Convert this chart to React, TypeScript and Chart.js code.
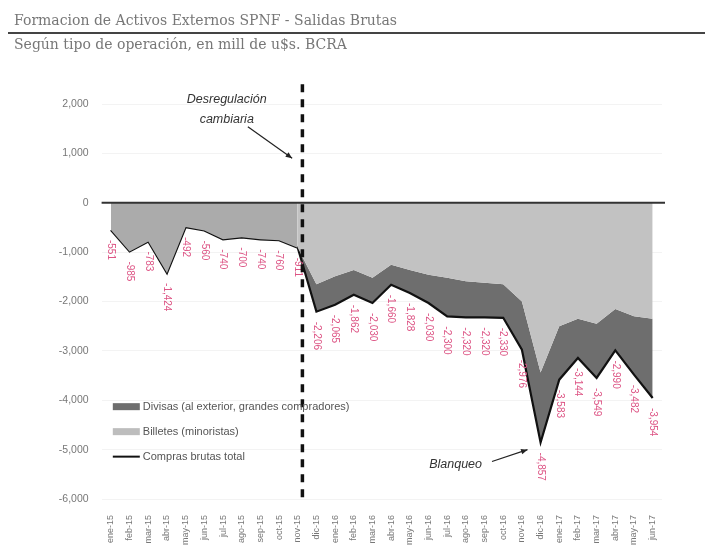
import React, { useEffect, useRef } from 'react';
import { Chart, registerables } from 'chart.js';
Chart.register(...registerables);

const categories = [
  'ene-15', 'feb-15', 'mar-15', 'abr-15', 'may-15', 'jun-15', 'jul-15', 'ago-15', 'sep-15', 'oct-15', 'nov-15', 'dic-15',
  'ene-16', 'feb-16', 'mar-16', 'abr-16', 'may-16', 'jun-16', 'jul-16', 'ago-16', 'sep-16', 'oct-16', 'nov-16', 'dic-16',
  'ene-17', 'feb-17', 'mar-17', 'abr-17', 'may-17', 'jun-17',
];

const totalValues = [
  -551, -985, -783, -1424, -492, -560, -740, -700, -740, -760, -911, -2206,
  -2065, -1862, -2030, -1660, -1828, -2030, -2300, -2320, -2320, -2330, -2976, -4857,
  -3583, -3144, -3549, -2990, -3482, -3954,
];

const billetesValues = [
  -551, -985, -783, -1424, -492, -560, -740, -700, -740, -760, -911, -1650,
  -1490, -1360, -1520, -1255, -1360, -1460, -1520, -1590, -1620, -1650, -2000, -3440,
  -2500, -2350, -2450, -2150, -2300, -2350,
];

const legendLabels = [
  'Divisas (al exterior, grandes compradores)',
  'Billetes (minoristas)',
  'Compras brutas total',
];

const yMin = -6000;
const yMax = 2000;
const yStep = 1000;
const dereguIndex = 10.25;

const fmt = (v: number) => v.toLocaleString('en-US');

const annotationPlugin = {
  id: 'annot',
  afterDatasetsDraw(chart: any) {
    const { ctx, chartArea, scales } = chart;
    const x = scales.x;
    const y = scales.y;
    ctx.save();
    // zero line
    const y0 = y.getPixelForValue(0);
    ctx.strokeStyle = '#333';
    ctx.lineWidth = 2;
    ctx.beginPath();
    ctx.moveTo(chartArea.left, y0);
    ctx.lineTo(chartArea.right + 3, y0);
    ctx.stroke();

    // data labels
    const meta = chart.getDatasetMeta(1);
    ctx.fillStyle = '#dd5585';
    ctx.font = '10px "Liberation Sans"';
    ctx.textAlign = 'left';
    ctx.textBaseline = 'middle';
    meta.data.forEach((pt: any, i: number) => {
      ctx.save();
      ctx.translate(pt.x, pt.y + 10);
      ctx.rotate(Math.PI / 2);
      ctx.fillText(fmt(totalValues[i]), 0, 0);
      ctx.restore();
    });

    // dashed vertical line
    const dx = x.getPixelForValue(dereguIndex);
    ctx.strokeStyle = '#111';
    ctx.lineWidth = 3.5;
    ctx.setLineDash([8, 7]);
    ctx.beginPath();
    ctx.moveTo(dx, y.getPixelForValue(2400));
    ctx.lineTo(dx, chartArea.bottom);
    ctx.stroke();
    ctx.setLineDash([]);

    const arrow = (x1: number, y1: number, x2: number, y2: number) => {
      ctx.strokeStyle = '#222';
      ctx.fillStyle = '#222';
      ctx.lineWidth = 1.2;
      ctx.beginPath();
      ctx.moveTo(x1, y1);
      ctx.lineTo(x2, y2);
      ctx.stroke();
      const a = Math.atan2(y2 - y1, x2 - x1);
      const L = 7;
      ctx.beginPath();
      ctx.moveTo(x2, y2);
      ctx.lineTo(x2 - L * Math.cos(a - 0.4), y2 - L * Math.sin(a - 0.4));
      ctx.lineTo(x2 - L * Math.cos(a + 0.4), y2 - L * Math.sin(a + 0.4));
      ctx.closePath();
      ctx.fill();
    };

    // Desregulacion
    ctx.fillStyle = '#333';
    ctx.font = 'italic 12.5px "Liberation Sans"';
    ctx.textAlign = 'center';
    ctx.textBaseline = 'middle';
    ctx.fillText('Desregulación', x.getPixelForValue(6.2), y.getPixelForValue(2085));
    ctx.fillText('cambiaria', x.getPixelForValue(6.2), y.getPixelForValue(1680));
    arrow(x.getPixelForValue(7.33), y.getPixelForValue(1540), x.getPixelForValue(9.7), y.getPixelForValue(900));

    // Blanqueo
    ctx.fillStyle = '#333';
    ctx.font = 'italic 12.5px "Liberation Sans"';
    ctx.fillText('Blanqueo', x.getPixelForValue(18.45), y.getPixelForValue(-5300));
    arrow(x.getPixelForValue(20.4), y.getPixelForValue(-5240), x.getPixelForValue(22.3), y.getPixelForValue(-5000));

    // legend
    const lx = x.getPixelForValue(0.1);
    const rows = [-4130, -4636, -5142];
    ctx.font = '11px "Liberation Sans"';
    ctx.textAlign = 'left';
    rows.forEach((rv, i) => {
      const ry = y.getPixelForValue(rv);
      if (i === 0) {
        ctx.fillStyle = '#6e6e6e';
        ctx.fillRect(lx, ry - 3.5, 27, 7);
      } else if (i === 1) {
        ctx.fillStyle = '#bdbdbd';
        ctx.fillRect(lx, ry - 3.5, 27, 7);
      } else {
        ctx.strokeStyle = '#111';
        ctx.lineWidth = 2;
        ctx.beginPath();
        ctx.moveTo(lx, ry);
        ctx.lineTo(lx + 27, ry);
        ctx.stroke();
      }
      ctx.fillStyle = '#555';
      ctx.fillText(legendLabels[i], lx + 30, ry);
    });
    ctx.restore();
  },
};

export default function App() {
  const ref = useRef<HTMLCanvasElement>(null);
  useEffect(() => {
    if (!ref.current) return;
    const chart = new Chart(ref.current, {
      type: 'line',
      data: {
        labels: categories,
        datasets: [
          {
            label: legendLabels[1],
            data: billetesValues,
            fill: 'origin',
            backgroundColor: '#c2c2c2',
            borderWidth: 0,
            pointRadius: 0,
            segment: {
              backgroundColor: (c: any) => (c.p1DataIndex <= 10 ? '#ababab' : '#c2c2c2'),
            },
          } as any,
          {
            label: legendLabels[2],
            data: totalValues,
            fill: '-1',
            backgroundColor: '#6e6e6e',
            borderColor: '#111',
            borderWidth: 2.2,
            pointRadius: 0,
            tension: 0,
          },
        ],
      },
      options: {
        responsive: false,
        animation: false,
        layout: { padding: { left: 0, right: 47, top: 104, bottom: 0 } },
        plugins: { legend: { display: false }, tooltip: { enabled: false } },
        scales: {
          x: {
            offset: true,
            border: { display: false },
            grid: { display: false },
            ticks: {
              autoSkip: false,
              maxRotation: 90,
              minRotation: 90,
              padding: 8,
              color: '#777',
              font: { family: 'Liberation Sans', size: 9 },
            },
            afterFit: (s: any) => { s.height = 49; },
          },
          y: {
            min: yMin,
            max: yMax,
            border: { display: false },
            grid: { color: '#f3f3f3', drawTicks: false },
            ticks: {
              stepSize: yStep,
              padding: 13,
              color: '#777',
              font: { family: 'Liberation Sans', size: 10.5 },
              callback: (v: any) => fmt(Number(v)),
            },
            afterFit: (s: any) => { s.width = 101.6; },
          },
        },
      },
      plugins: [annotationPlugin],
    });
    return () => chart.destroy();
  }, []);

  return (
    <div style={{ position: 'fixed', left: 0, top: 0, width: 709, height: 548, background: '#fff' }}>
      <canvas ref={ref} width={709} height={548} style={{ position: 'absolute', left: 0, top: 0 }} />
      <div style={{ position: 'absolute', left: 14, top: 12, fontFamily: '"DejaVu Serif"', fontSize: 14, color: '#777', whiteSpace: 'nowrap' }}>
        Formacion de Activos Externos SPNF - Salidas Brutas
      </div>
      <div style={{ position: 'absolute', left: 8, top: 32, width: 697, height: 2, background: '#444' }} />
      <div style={{ position: 'absolute', left: 14, top: 36, fontFamily: '"DejaVu Serif"', fontSize: 14, color: '#777', whiteSpace: 'nowrap' }}>
        Según tipo de operación, en mill de u$s. BCRA
      </div>
    </div>
  );
}
